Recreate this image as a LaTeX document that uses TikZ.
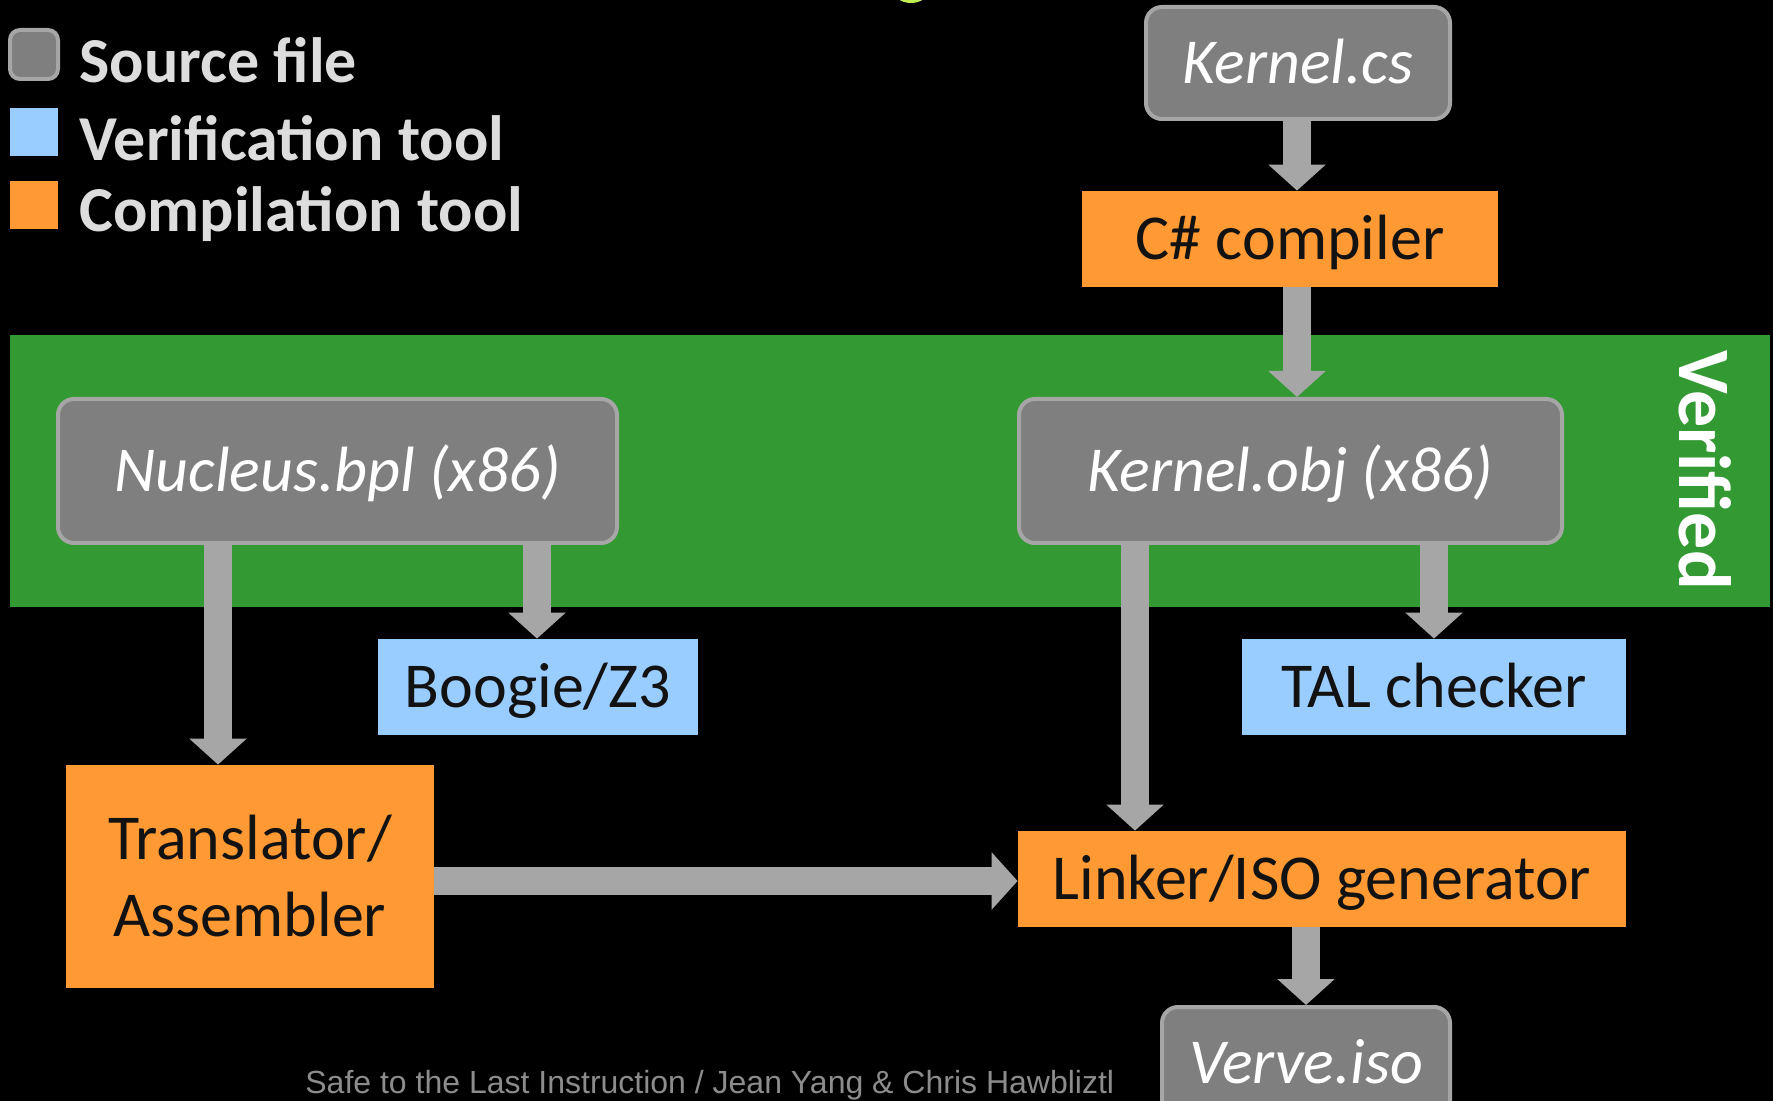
\documentclass[tikz,border=0pt]{standalone}
\usepackage{fontspec}
\setmainfont{Carlito}
\newfontfamily\footfont{Liberation Sans}
\usetikzlibrary{arrows.meta}

\definecolor{srcgray}{HTML}{7F7F7F}
\definecolor{srcedge}{HTML}{A6A6A6}
\definecolor{verblue}{HTML}{99CCFF}
\definecolor{comporange}{HTML}{FF9933}
\definecolor{bandgreen}{HTML}{339933}
\definecolor{arrowgray}{HTML}{A6A6A6}
\definecolor{legendgray}{HTML}{DDDDDD}
\definecolor{footgray}{HTML}{8C8C8C}
\definecolor{limegreen}{HTML}{BEEE50}

\begin{document}
\begin{tikzpicture}[%
    x=0.5pt, y=-0.5pt,          % one unit per pixel, counted from the top
    >={Triangle[length=13pt,width=28pt]}, % broad flat heads
    ]
% -------------------------------------------------
% Box styles
\tikzset{
  base/.style={inner sep=0pt, align=center, text height=20.5pt, text depth=0pt,
    font=\fontsize{32}{38.5}\selectfont},
  src/.style={base, fill=srcgray, draw=srcedge, line width=2pt,
    rounded corners=8pt, text=white, font=\fontsize{32}{38.5}\selectfont\itshape},
  verif/.style={base, fill=verblue, text=black!93},
  comp/.style={base, fill=comporange, text=black!93},
  % Connectors and labels
  flow/.style={->, draw=arrowgray, line width=14pt},
  legend/.style={anchor=base west, inner sep=0pt, text=legendgray,
    font=\fontsize{32}{37}\selectfont\bfseries}
}
% -------------------------------------------------
% Canvas
\useasboundingbox (0,0) rectangle (1773,1101);
\clip (0,0) rectangle (1773,1101);
\fill[black] (0,0) rectangle (1773,1101);
\fill[limegreen] (911,-12) ellipse [x radius=19, y radius=15];
\fill[bandgreen] (10,335) rectangle (1770,607);
\node[rotate=-90, inner sep=0pt, text=white,
  font=\fontsize{37}{40}\selectfont\bfseries] (band) at (1705,470) {Verified};

% Legend
\node[src, line width=2pt, rounded corners=5pt, minimum width=24pt,
  minimum height=24.5pt] (keysrc) at (34,54.5) {};
\node[verif, minimum size=24pt] (keyver) at (34,132) {};
\node[comp, minimum size=24pt] (keycomp) at (34,205) {};
\node[legend] (txtsrc) at (79,83) {Source file};
\node[legend] (txtver) at (79,161) {Verification tool};
\node[legend] (txtcomp) at (79,232) {Compilation tool};

% -------------------------------------------------
% Start by placing the nodes
\node[src, minimum width=152pt, minimum height=56pt] (kcs) at (1298,63) {Kernel.cs};
\node[comp, minimum width=208pt, minimum height=48pt] (csc) at (1290,239) {C\# compiler};
\node[src, minimum width=279.5pt, minimum height=72pt] (nuc) at (337.5,471) {Nucleus.bpl (x86)};
\node[src, minimum width=271.5pt, minimum height=72pt] (kobj) at (1290.5,471) {Kernel.obj (x86)};
\node[verif, minimum width=160pt, minimum height=48pt] (boogie) at (538,687) {Boogie/Z3};
\node[verif, minimum width=192pt, minimum height=48pt] (tal) at (1434,687) {TAL checker};
\node[comp, text height=, text depth=, minimum width=184pt,
  minimum height=111.5pt] (trans) at (250,876.5) {Translator/\\Assembler};
\node[comp, minimum width=304pt, minimum height=48pt] (linker) at (1322,879) {Linker/ISO generator};
\node[src, minimum width=144pt, minimum height=56pt] (verve) at (1306,1063) {Verve.iso};

% Connect them
\draw[flow] (1297,0 |- kcs.south) -- (1297,0 |- csc.north);
\draw[flow] (1297,0 |- csc.south) -- (1297,0 |- kobj.north);
\draw[flow] (218,0 |- nuc.south) -- (218,0 |- trans.north);
\draw[flow] (537,0 |- nuc.south) -- (537,0 |- boogie.north);
\draw[flow] (1135,0 |- kobj.south) -- (1135,0 |- linker.north);
\draw[flow] (1434,0 |- kobj.south) -- (1434,0 |- tal.north);
\draw[flow] (trans.east |- 0,881) -- (linker.west |- 0,881);
\draw[flow] (1306,0 |- linker.south) -- (1306,0 |- verve.north);

% Footer
\node[anchor=base west, inner sep=0pt, text=footgray,
  font=\footfont\fontsize{16}{18}\selectfont] (credit) at (305,1093)
  {Safe to the Last Instruction / Jean Yang \& Chris Hawbliztl};
% -------------------------------------------------
\end{tikzpicture}
\end{document}
